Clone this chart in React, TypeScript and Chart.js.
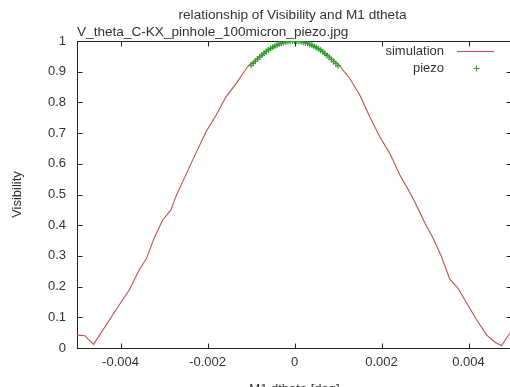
import React, { useEffect, useRef } from "react";
import { Chart, registerables } from "chart.js";

Chart.register(...registerables);

// ---- data ----
const simX = [
  -0.005, -0.00482, -0.00462, -0.00403, -0.0038, -0.00357, -0.0034, -0.00323, -0.00303, -0.00284,
  -0.00273, -0.00257, -0.00227, -0.00203, -0.0018, -0.00157, -0.00134, -0.00108, -0.0008, -0.0005,
  -0.00025, 0, 0.00025, 0.0005, 0.0008, 0.00102, 0.00127, 0.0015, 0.00173, 0.00196,
  0.00219, 0.00242, 0.00261, 0.00276, 0.003, 0.00319, 0.00338, 0.00357, 0.00376, 0.00396,
  0.00419, 0.00442, 0.00461, 0.00476, 0.00495, 0.005,
];
const simY = [
  0.042, 0.04, 0.012, 0.14, 0.189, 0.254, 0.292, 0.357, 0.417, 0.45,
  0.493, 0.542, 0.634, 0.705, 0.759, 0.819, 0.862, 0.916, 0.95, 0.98,
  0.995, 1.0, 0.995, 0.98, 0.95, 0.922, 0.878, 0.824, 0.753, 0.688,
  0.634, 0.564, 0.517, 0.477, 0.406, 0.357, 0.297, 0.224, 0.194, 0.146,
  0.091, 0.042, 0.019, 0.008, 0.048, 0.056,
];
const piezoX = [
  -0.001, -0.00095, -0.0009, -0.00085, -0.0008, -0.00075, -0.0007, -0.00065, -0.0006, -0.00055,
  -0.0005, -0.00045, -0.0004, -0.00035, -0.0003, -0.00025, -0.0002, -0.00015, -0.0001, -0.00005,
  0, 0.00005, 0.0001, 0.00015, 0.0002, 0.00025, 0.0003, 0.00035, 0.0004, 0.00045,
  0.0005, 0.00055, 0.0006, 0.00065, 0.0007, 0.00075, 0.0008, 0.00085, 0.0009, 0.00095, 0.001,
];
const piezoY = [
  0.921, 0.927, 0.934, 0.941, 0.948, 0.954, 0.96, 0.966, 0.971, 0.976,
  0.98, 0.984, 0.987, 0.99, 0.993, 0.995, 0.997, 0.998, 0.999, 1.0,
  1.0, 1.0, 0.999, 0.998, 0.996, 0.994, 0.992, 0.989, 0.986, 0.983,
  0.979, 0.975, 0.97, 0.965, 0.959, 0.953, 0.947, 0.94, 0.933, 0.926, 0.919,
];
const xTickValues = [-0.004, -0.002, 0, 0.002, 0.004];
const xTickLabels = ["-0.004", "-0.002", "0", "0.002", "0.004"];
const yTickValues = [0, 0.1, 0.2, 0.3, 0.4, 0.5, 0.6, 0.7, 0.8, 0.9, 1];
const yTickLabels = ["0", "0.1", "0.2", "0.3", "0.4", "0.5", "0.6", "0.7", "0.8", "0.9", "1"];
const seriesNames = ["simulation", "piezo"];
const titleText = "relationship of Visibility and M1 dtheta";
const subtitleText = "V_theta_C-KX_pinhole_100micron_piezo.jpg";
const xAxisTitle = "M1 dtheta [deg]";
const yAxisTitle = "Visibility";

const FONT = '"Liberation Sans", Arial, sans-serif';
const TEXT = "#333";
const RED = "#c04e4e";
const GREEN = "#2e9e2e";

const framePlugin = {
  id: "gnuframe",
  beforeDatasetsDraw(chart: any) {
    const { ctx, chartArea: a, scales } = chart;
    ctx.save();
    ctx.strokeStyle = "#222";
    ctx.lineWidth = 1;
    const L = Math.round(a.left) + 0.5;
    const R = Math.round(a.right) - 0.5;
    const T = Math.round(a.top) + 0.5;
    const B = Math.round(a.bottom) + 0.5;
    ctx.strokeRect(L, T, R - L, B - T);
    const tl = 5;
    ctx.beginPath();
    scales.x.ticks.forEach((t: any) => {
      const px = Math.round(scales.x.getPixelForValue(t.value)) + 0.5;
      ctx.moveTo(px, B);
      ctx.lineTo(px, B - tl);
      ctx.moveTo(px, T);
      ctx.lineTo(px, T + tl);
    });
    scales.y.ticks.forEach((t: any) => {
      const py = Math.round(scales.y.getPixelForValue(t.value)) + 0.5;
      ctx.moveTo(L, py);
      ctx.lineTo(L + tl, py);
      ctx.moveTo(R, py);
      ctx.lineTo(R - tl, py);
    });
    ctx.stroke();
    ctx.restore();
  },
  afterDraw(chart: any) {
    const { ctx, chartArea: a } = chart;
    ctx.save();
    ctx.fillStyle = TEXT;
    ctx.textBaseline = "middle";
    ctx.font = `13.6px ${FONT}`;
    ctx.textAlign = "center";
    ctx.fillText(titleText, (a.left + a.right) / 2 - 2, 15);
    ctx.textAlign = "left";
    ctx.fillText(subtitleText, a.left, 32);

    // legend (gnuplot style: text, then sample)
    ctx.font = `13px ${FONT}`;
    const ds = chart.data.datasets;
    const textRight = a.right - 68;
    const sampleC = a.right - 36.5;
    const row0 = a.top + 10;
    const row1 = a.top + 27;
    ctx.textAlign = "right";
    ctx.fillText(ds[0].label, textRight, row0);
    ctx.fillText(ds[1].label, textRight, row1);
    ctx.strokeStyle = RED;
    ctx.lineWidth = 1;
    ctx.beginPath();
    ctx.moveTo(sampleC - 18.5, Math.round(row0) + 0.5);
    ctx.lineTo(sampleC + 18.5, Math.round(row0) + 0.5);
    ctx.stroke();
    ctx.strokeStyle = GREEN;
    ctx.beginPath();
    const cx = Math.round(sampleC) + 0.5;
    const cy = Math.round(row1) + 0.5;
    ctx.moveTo(cx - 3, cy);
    ctx.lineTo(cx + 3, cy);
    ctx.moveTo(cx, cy - 3);
    ctx.lineTo(cx, cy + 3);
    ctx.stroke();
    ctx.restore();
  },
};

export default function App() {
  const ref = useRef<HTMLCanvasElement | null>(null);

  useEffect(() => {
    if (!ref.current) return;
    const chart = new Chart(ref.current, {
      type: "line",
      data: {
        datasets: [
          {
            label: seriesNames[0],
            data: simX.map((x, i) => ({ x, y: simY[i] })),
            borderColor: RED,
            borderWidth: 1.1,
            pointRadius: 0,
            tension: 0,
            fill: false,
            order: 1,
          },
          {
            label: seriesNames[1],
            data: piezoX.map((x, i) => ({ x, y: piezoY[i] })),
            showLine: false,
            borderColor: GREEN,
            backgroundColor: GREEN,
            pointStyle: "cross",
            pointRadius: 3,
            pointBorderWidth: 1.2,
            pointBorderColor: GREEN,
            order: 0,
          },
        ],
      },
      options: {
        responsive: false,
        animation: false,
        devicePixelRatio: 1,
        layout: { padding: { top: 41, left: 0, right: 8, bottom: 0 } },
        plugins: {
          legend: { display: false },
          title: { display: false },
          tooltip: { enabled: false },
        },
        scales: {
          x: {
            type: "linear",
            min: -0.005,
            max: 0.005,
            afterBuildTicks: (s: any) => {
              s.ticks = xTickValues.map((v) => ({ value: v }));
            },
            afterFit: (s: any) => {
              s.height = 52;
            },
            ticks: {
              padding: 7,
              color: TEXT,
              font: { family: FONT, size: 13 },
              maxRotation: 0,
              callback: (_v: any, i: number) => xTickLabels[i],
            },
            grid: { display: false, drawTicks: false },
            border: { display: false },
            title: {
              display: true,
              text: xAxisTitle,
              color: TEXT,
              font: { family: FONT, size: 13 },
              padding: { top: 0, bottom: 3 },
            },
          },
          y: {
            type: "linear",
            min: 0,
            max: 1,
            afterBuildTicks: (s: any) => {
              s.ticks = yTickValues.map((v) => ({ value: v }));
            },
            afterFit: (s: any) => {
              s.width = 77;
            },
            ticks: {
              padding: 11,
              color: TEXT,
              font: { family: FONT, size: 13 },
              callback: (_v: any, i: number) => yTickLabels[i],
            },
            grid: { display: false, drawTicks: false },
            border: { display: false },
            title: {
              display: true,
              text: yAxisTitle,
              color: TEXT,
              font: { family: FONT, size: 13 },
              padding: { top: 10, bottom: 0 },
            },
          },
        },
      },
      plugins: [framePlugin],
    } as any);
    return () => chart.destroy();
  }, []);

  return (
    <div
      style={{
        position: "fixed",
        left: 0,
        top: 0,
        width: 510,
        height: 387,
        overflow: "hidden",
        background: "#fff",
      }}
    >
      <canvas ref={ref} width={520} height={400} style={{ display: "block" }} />
    </div>
  );
}
